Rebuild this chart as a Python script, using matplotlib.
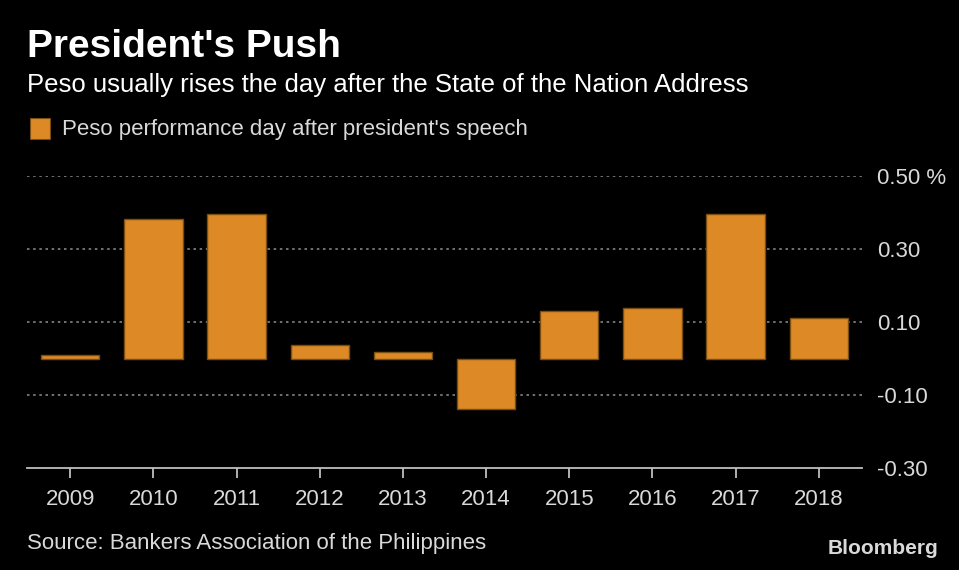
import matplotlib.pyplot as plt
from matplotlib.patches import Rectangle

# chart data
years = ['2009', '2010', '2011', '2012', '2013', '2014', '2015', '2016', '2017', '2018']
peso_change = [0.01, 0.382, 0.396, 0.037, 0.018, -0.138, 0.130, 0.138, 0.396, 0.111]
y_ticks = [-0.30, -0.10, 0.10, 0.30, 0.50]
y_labels = ['-0.30', '-0.10', '0.10', '0.30', '0.50 %']

fam = ['Liberation Sans', 'DejaVu Sans']
bar_color = '#dd8a26'
edge_color = '#7a4e12'
text_color = '#d9d9d9'

fig = plt.figure(figsize=(9.59, 5.70), dpi=100, facecolor='black')
ax = fig.add_axes([27/959, 1-468/570, (862-27)/959, (468-176)/570], facecolor='black')

x = list(range(len(years)))
ax.bar(x, peso_change, width=0.7, color=bar_color, edgecolor=edge_color, linewidth=1, zorder=3)

ax.set_xlim(-0.52, len(years) - 0.48)
ax.set_ylim(-0.30, 0.50)

# dotted gridlines, solid baseline
for t in y_ticks[1:]:
    ax.axhline(t, color='#858585', linestyle=(0, (1.5, 2.2)), linewidth=1.2, zorder=1)
for s in ['top', 'right', 'left']:
    ax.spines[s].set_visible(False)
ax.spines['bottom'].set_color('#bfbfbf')
ax.spines['bottom'].set_linewidth(1.3)

ax.set_xticks(x)
ax.set_xticklabels(years, family=fam, fontsize=16, color=text_color)
ax.tick_params(axis='x', colors='#bfbfbf', length=7, width=1.3, pad=8, labelcolor=text_color)

ax.yaxis.tick_right()
ax.set_yticks(y_ticks)
ax.set_yticklabels(y_labels, family=fam, fontsize=16, color=text_color)
ax.tick_params(axis='y', length=0, pad=11)
for lab in ax.get_yticklabels():
    lab.set_horizontalalignment('left')

# titles and legend
fig.text(27/959, 1-47/570, "President's Push", family=fam, fontsize=28, fontweight='bold',
         color='white', va='center', ha='left')
fig.text(27/959, 1-85/570, 'Peso usually rises the day after the State of the Nation Address',
         family=fam, fontsize=18.5, color='white', va='center', ha='left')
fig.patches.append(Rectangle((30/959, 1-139/570), 20/959, 21/570, transform=fig.transFigure,
                             facecolor=bar_color, edgecolor=edge_color, linewidth=0.8))
fig.text(62/959, 1-130/570, "Peso performance day after president's speech",
         family=fam, fontsize=16, color=text_color, va='center', ha='left')

fig.text(27/959, 1-543/570, 'Source: Bankers Association of the Philippines',
         family=fam, fontsize=16, color=text_color, va='center', ha='left')
fig.text(938/959, 1-549/570, 'Bloomberg', family=fam, fontsize=15, fontweight='bold',
         color='#d9d9d9', va='center', ha='right')

fig.savefig('out.png', dpi=100, facecolor='black')
